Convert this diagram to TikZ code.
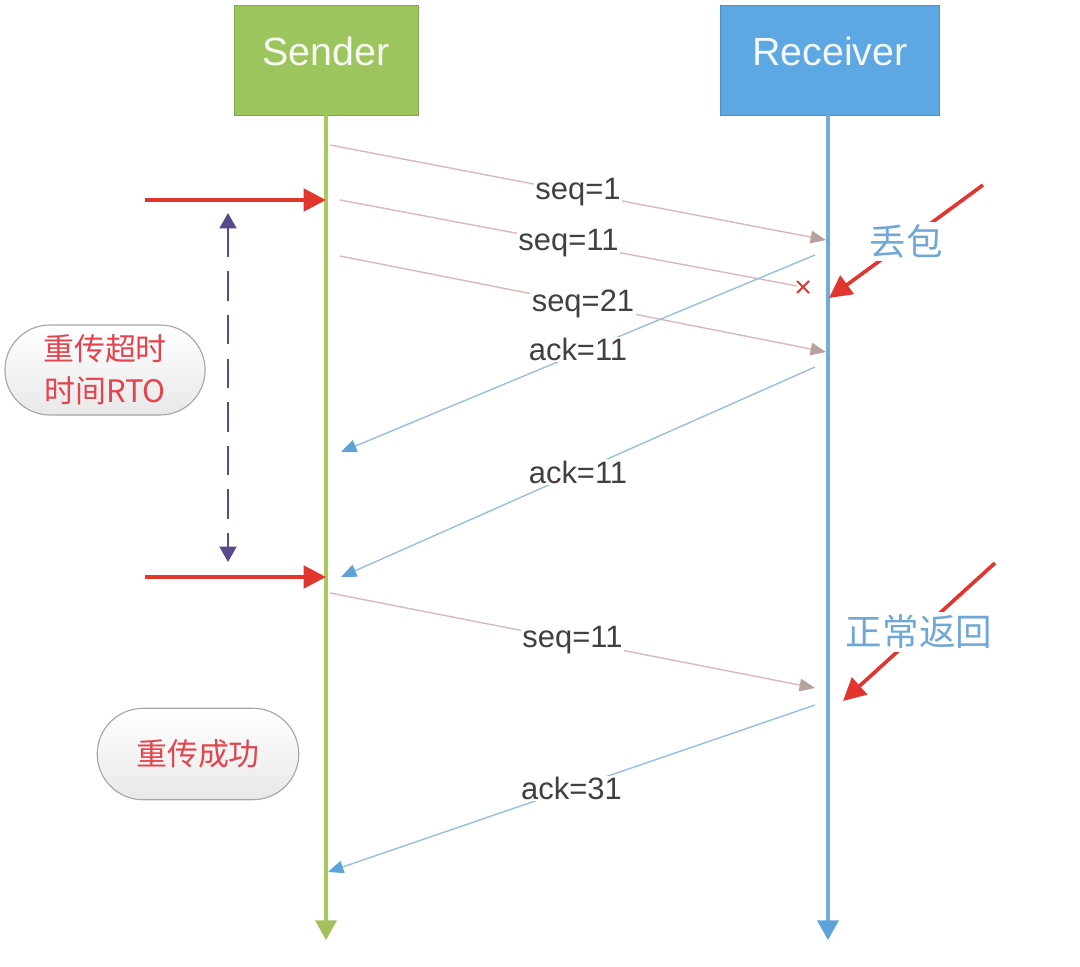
\documentclass[tikz,border=0pt]{standalone}
\usepackage{fontspec}
\setmainfont{Liberation Sans}
\newfontfamily\cjk{Noto Sans CJK SC}
\usepackage{tikz}
\usetikzlibrary{arrows.meta,shapes.misc,calc}

\definecolor{sendgreen}{HTML}{9DC55E}
\definecolor{sendline}{HTML}{A8CB58}
\definecolor{recvblue}{HTML}{5DA8E2}
\definecolor{recvline}{HTML}{72ACD8}
\definecolor{seqline}{HTML}{D9B9B9}
\definecolor{seqtip}{HTML}{B8A29F}
\definecolor{ackline}{HTML}{98BEE2}
\definecolor{acktip}{HTML}{5EA2DA}
\definecolor{markred}{HTML}{E2352E}
\definecolor{notered}{HTML}{E3444D}
\definecolor{noteblue}{HTML}{6FA8D6}
\definecolor{rtopurple}{HTML}{5A4A8C}

\begin{document}
\begin{tikzpicture}[x=0.025cm,y=-0.025cm,
    actor/.style={draw=#1!85!black,fill=#1,minimum height=78pt,text depth=12pt,
      text=white!92!#1,font=\fontsize{28}{32}\selectfont},
    msg/.style={draw=seqline,line width=1pt,-{Triangle[width=9pt,length=11pt,fill=seqtip,color=seqtip]}},
    ack/.style={draw=ackline,line width=1pt,-{Triangle[width=9pt,length=11pt,fill=acktip,color=acktip]}},
    lbl/.style={fill=white,inner sep=1pt,text=black!75,font=\fontsize{22}{26}\selectfont},
    redmark/.style={draw=markred,line width=2.8pt,-{Triangle[width=16pt,length=16pt]}},
    note/.style={fill=white,inner sep=2pt,text=noteblue,font=\cjk\fontsize{26}{30}\selectfont},
    pill/.style={rounded rectangle,draw=black!35,line width=0.8pt,
      top color=white,bottom color=black!9,text=notered,align=center,
      font=\cjk\fontsize{22}{30}\selectfont}]
  \useasboundingbox (0,0) rectangle (1080,967);

  % actors
  \node[actor=sendgreen,minimum width=131pt] (sender) at (326,60) {Sender};
  \node[actor=recvblue,minimum width=156pt] (receiver) at (830,60) {Receiver};

  % lifelines
  \coordinate (sEnd) at (326,940);
  \coordinate (rEnd) at (828,940);
  \draw[sendline,line width=2.4pt,-{Triangle[width=15pt,length=14pt,color=sendline!85!gray]}]
    (sender.south -| sEnd) -- (sEnd);
  \draw[recvline,line width=2.4pt,-{Triangle[width=15pt,length=14pt,color=acktip]}]
    (receiver.south -| rEnd) -- (rEnd);

  % points on the lifelines
  \coordinate (s1) at (330,145);  \coordinate (r1) at (826,240);
  \coordinate (s2) at (340,200);  \coordinate (lost) at (803,287);
  \coordinate (s3) at (340,256);  \coordinate (r3) at (826,352);
  \coordinate (r4) at (815,255);  \coordinate (s4) at (341,452);
  \coordinate (r5) at (815,367);  \coordinate (s5) at (341,577);
  \coordinate (s6) at (330,593);  \coordinate (r6) at (815,688);
  \coordinate (r7) at (815,705);  \coordinate (s7) at (328,872);

  % messages
  \draw[msg] (s1) -- node[lbl] {seq=1} (r1);
  \draw[seqline,line width=1pt] (s2) -- node[lbl] {seq=11} ($(lost)+(-6,-1)$);
  \draw[msg] (s3) -- node[lbl,pos=0.5] {seq=21} (r3);
  \draw[ack] (r4) -- node[lbl,yshift=3pt] {ack=11} (s4);
  \draw[ack] (r5) -- node[lbl] {ack=11} (s5);
  \draw[msg] (s6) -- node[lbl] {seq=11} (r6);
  \draw[ack] (r7) -- node[lbl] {ack=31} (s7);

  % lost packet
  \draw[markred,line width=1.3pt] ($(lost)+(-6,-6)$) -- ($(lost)+(6,6)$)
    ($(lost)+(-6,6)$) -- ($(lost)+(6,-6)$);

  % timeout marks
  \coordinate (t1) at (326,200);  \coordinate (t1in) at (145,200);
  \coordinate (t2) at (326,577);  \coordinate (t2in) at (145,577);
  \draw[redmark] (t1in) -- (t1);
  \draw[redmark] (t2in) -- (t2);

  % RTO interval
  \coordinate (rtoTop) at (228,213);
  \coordinate (rtoBot) at (228,562);
  \draw[rtopurple,line width=2pt,dash pattern=on 21pt off 10pt,
    {Triangle[width=12pt,length=11pt]}-{Triangle[width=12pt,length=11pt]}] (rtoTop) -- (rtoBot);

  % notes
  \node[pill,minimum width=149pt,minimum height=64pt] (rto) at (105,370) {重传超时\\时间RTO};
  \node[pill,minimum width=150pt,minimum height=65pt] (ok) at (198,754) {重传成功};

  \coordinate (lossFrom) at (983,185);  \coordinate (lossTo) at (829,298);
  \draw[redmark,line width=2.6pt] (lossFrom) -- node[note] {丢包} (lossTo);
  \coordinate (backFrom) at (995,563);  \coordinate (backTo) at (843,701);
  \draw[redmark,line width=2.6pt] (backFrom) -- node[note] {正常返回} (backTo);
\end{tikzpicture}
\end{document}
